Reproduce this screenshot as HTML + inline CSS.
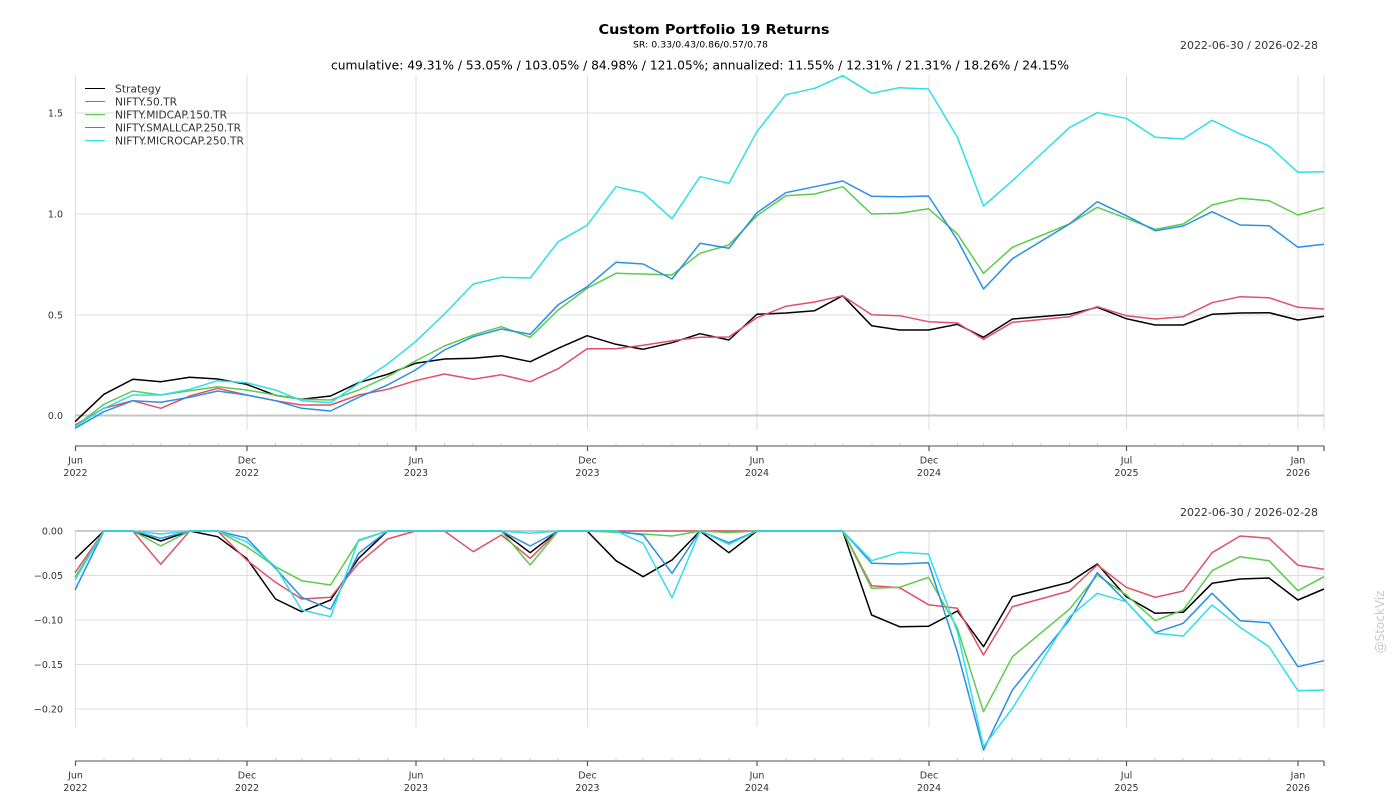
<!DOCTYPE html>
<html>
<head>
<meta charset="utf-8">
<style>
html,body{margin:0;padding:0;background:#fff;}
svg{display:block;}
text{font-family:"DejaVu Sans","Liberation Sans",sans-serif;}
</style>
</head>
<body>
<svg width="1400" height="800" viewBox="0 0 1400 800" xmlns="http://www.w3.org/2000/svg">
<rect x="0" y="0" width="1400" height="800" fill="#fff"/>

<!-- Titles -->
<text x="714" y="34" text-anchor="middle" font-size="13.5" font-weight="bold" fill="#000" textLength="231" lengthAdjust="spacingAndGlyphs">Custom Portfolio 19 Returns</text>
<text x="700.5" y="47.5" text-anchor="middle" font-size="9" fill="#000" textLength="135" lengthAdjust="spacingAndGlyphs">SR: 0.33/0.43/0.86/0.57/0.78</text>
<text x="700" y="69.5" text-anchor="middle" font-size="12" fill="#000" textLength="738" lengthAdjust="spacingAndGlyphs">cumulative: 49.31% / 53.05% / 103.05% / 84.98% / 121.05%; annualized: 11.55% / 12.31% / 21.31% / 18.26% / 24.15%</text>
<text x="1318" y="49" text-anchor="end" font-size="11" fill="#333" textLength="138" lengthAdjust="spacingAndGlyphs">2022-06-30 / 2026-02-28</text>
<text x="1318" y="516" text-anchor="end" font-size="11" fill="#333" textLength="138" lengthAdjust="spacingAndGlyphs">2022-06-30 / 2026-02-28</text>

<!-- Top plot grid -->
<g stroke="#dddddd" stroke-width="1">
  <line x1="75" y1="113" x2="1324" y2="113"/>
  <line x1="75" y1="214" x2="1324" y2="214"/>
  <line x1="75" y1="315" x2="1324" y2="315"/>
  <line x1="75.5" y1="75" x2="75.5" y2="430"/>
  <line x1="247" y1="75" x2="247" y2="430"/>
  <line x1="416" y1="75" x2="416" y2="430"/>
  <line x1="587.5" y1="75" x2="587.5" y2="430"/>
  <line x1="757" y1="75" x2="757" y2="430"/>
  <line x1="929" y1="75" x2="929" y2="430"/>
  <line x1="1126.5" y1="75" x2="1126.5" y2="430"/>
  <line x1="1298" y1="75" x2="1298" y2="430"/>
  <line x1="1324" y1="75" x2="1324" y2="430"/>
</g>
<line x1="75" y1="415.5" x2="1324" y2="415.5" stroke="#c4c4c4" stroke-width="2"/>

<!-- Top y labels -->
<g font-size="9.5" fill="#333" text-anchor="end">
  <text x="63" y="116.5">1.5</text>
  <text x="63" y="217.5">1.0</text>
  <text x="63" y="318.5">0.5</text>
  <text x="63" y="419">0.0</text>
</g>

<!-- Top x axis -->
<g stroke="#cfcfcf" stroke-width="1">
  <line x1="104" y1="443" x2="104" y2="446"/><line x1="133" y1="443" x2="133" y2="446"/><line x1="161" y1="443" x2="161" y2="446"/><line x1="190" y1="443" x2="190" y2="446"/><line x1="218" y1="443" x2="218" y2="446"/>
  <line x1="275.5" y1="443" x2="275.5" y2="446"/><line x1="302" y1="443" x2="302" y2="446"/><line x1="331" y1="443" x2="331" y2="446"/><line x1="359" y1="443" x2="359" y2="446"/><line x1="387.5" y1="443" x2="387.5" y2="446"/>
  <line x1="444.5" y1="443" x2="444.5" y2="446"/><line x1="473" y1="443" x2="473" y2="446"/><line x1="501" y1="443" x2="501" y2="446"/><line x1="530" y1="443" x2="530" y2="446"/><line x1="558" y1="443" x2="558" y2="446"/>
  <line x1="616" y1="443" x2="616" y2="446"/><line x1="643" y1="443" x2="643" y2="446"/><line x1="672" y1="443" x2="672" y2="446"/><line x1="700" y1="443" x2="700" y2="446"/><line x1="729" y1="443" x2="729" y2="446"/>
  <line x1="786" y1="443" x2="786" y2="446"/><line x1="815" y1="443" x2="815" y2="446"/><line x1="843" y1="443" x2="843" y2="446"/><line x1="872" y1="443" x2="872" y2="446"/><line x1="900" y1="443" x2="900" y2="446"/>
  <line x1="957.5" y1="443" x2="957.5" y2="446"/><line x1="983.5" y1="443" x2="983.5" y2="446"/><line x1="1012.5" y1="443" x2="1012.5" y2="446"/><line x1="1041" y1="443" x2="1041" y2="446"/><line x1="1069.5" y1="443" x2="1069.5" y2="446"/><line x1="1097.5" y1="443" x2="1097.5" y2="446"/>
  <line x1="1155" y1="443" x2="1155" y2="446"/><line x1="1183" y1="443" x2="1183" y2="446"/><line x1="1212" y1="443" x2="1212" y2="446"/><line x1="1240" y1="443" x2="1240" y2="446"/><line x1="1269" y1="443" x2="1269" y2="446"/>
</g>
<line x1="75" y1="446" x2="1324" y2="446" stroke="#8a8a8a" stroke-width="1.6"/>
<g stroke="#555" stroke-width="1.2">
  <line x1="75.5" y1="446" x2="75.5" y2="451"/>
  <line x1="247" y1="446" x2="247" y2="451"/>
  <line x1="416" y1="446" x2="416" y2="451"/>
  <line x1="587.5" y1="446" x2="587.5" y2="451"/>
  <line x1="757" y1="446" x2="757" y2="451"/>
  <line x1="929" y1="446" x2="929" y2="451"/>
  <line x1="1126.5" y1="446" x2="1126.5" y2="451"/>
  <line x1="1298" y1="446" x2="1298" y2="451"/>
  <line x1="1324" y1="446" x2="1324" y2="451"/>
</g>
<g font-size="9.5" fill="#333" text-anchor="middle">
  <text x="75.5" y="463.5">Jun</text><text x="75.5" y="476">2022</text>
  <text x="247" y="463.5">Dec</text><text x="247" y="476">2022</text>
  <text x="416" y="463.5">Jun</text><text x="416" y="476">2023</text>
  <text x="587.5" y="463.5">Dec</text><text x="587.5" y="476">2023</text>
  <text x="757" y="463.5">Jun</text><text x="757" y="476">2024</text>
  <text x="929" y="463.5">Dec</text><text x="929" y="476">2024</text>
  <text x="1126.5" y="463.5">Jul</text><text x="1126.5" y="476">2025</text>
  <text x="1298" y="463.5">Jan</text><text x="1298" y="476">2026</text>
</g>

<!-- Top series -->
<g fill="none" stroke-width="1.5" stroke-linejoin="round">
<polyline stroke="#000000" points="75,421.7 103.9,394.3 132.8,379.3 160.8,381.7 189.7,377.3 217.7,379 246.6,384.3 275.5,395.3 301.7,399.3 330.6,396 358.6,382.7 387.5,374.3 415.5,363.3 444.4,359 473.3,358.3 501.3,355.7 530.2,361.7 558.2,348.3 587.1,335.7 616,344.3 643.1,349.3 672,342.7 700,333.7 728.9,340 756.9,314.3 785.8,313 814.7,310.7 842.7,295.7 871.6,325.7 899.6,330 928.5,330 957.4,324.3 983.5,337.3 1012.4,319 1069.4,314.3 1097.3,307.3 1126.3,318.7 1155.2,325 1183.2,325 1212.1,314.3 1240.1,313 1269,312.7 1297.9,320 1324,316.3"/>
<polyline stroke="#e0506a" points="75,425 103.9,408.3 132.8,400.7 160.8,408.3 189.7,396 217.7,388.3 246.6,395 275.5,400.7 301.7,405 330.6,405 358.6,395 387.5,389.3 415.5,380.7 444.4,374 473.3,379.3 501.3,374.7 530.2,381.7 558.2,368.7 587.1,348.7 616,348.7 643.1,345.3 672,340.7 700,337.3 728.9,337 756.9,317.7 785.8,306.3 814.7,302 842.7,295.7 871.6,314.7 899.6,315.7 928.5,321.7 957.4,323 983.5,339.3 1012.4,322.3 1069.4,316.7 1097.3,306.7 1126.3,315.7 1155.2,319 1183.2,316.7 1212.1,302.7 1240.1,296.7 1269,297.7 1297.9,307.3 1324,309"/>
<polyline stroke="#5ccb4c" points="75,426.7 103.9,404.3 132.8,391 160.8,395 189.7,390.7 217.7,386.7 246.6,390 275.5,395 301.7,399.3 330.6,400 358.6,390 387.5,376.7 415.5,361 444.4,346 473.3,335 501.3,326.7 530.2,337.3 558.2,310 587.1,288.3 616,273.3 643.1,274 672,275 700,253.3 728.9,245 756.9,215.7 785.8,195.7 814.7,194 842.7,186.7 871.6,214 899.6,213.3 928.5,208.7 957.4,234 983.5,273.3 1012.4,247.3 1069.4,224 1097.3,207.3 1126.3,218.3 1155.2,229.3 1183.2,224 1212.1,205 1240.1,198.3 1269,200.7 1297.9,215 1324,207.7"/>
<polyline stroke="#2b8fe6" points="75,428.3 103.9,411.7 132.8,400.7 160.8,402.3 189.7,397.3 217.7,391 246.6,395 275.5,400.7 301.7,408.3 330.6,411 358.6,397.3 387.5,385 415.5,370 444.4,350 473.3,336.7 501.3,329 530.2,334.3 558.2,304.7 587.1,286.7 616,262.3 643.1,264 672,279 700,243.3 728.9,248.3 756.9,212.7 785.8,192.7 814.7,186.7 842.7,181 871.6,196.3 899.6,196.7 928.5,196 957.4,240 983.5,289 1012.4,258.7 1069.4,224 1097.3,201.7 1126.3,215.7 1155.2,230.7 1183.2,226 1212.1,211.7 1240.1,225 1269,225.7 1297.9,247.3 1324,244.3"/>
<polyline stroke="#2fdfe8" points="75,426.7 103.9,408.3 132.8,395 160.8,395 189.7,389.3 217.7,380.7 246.6,382.7 275.5,390 301.7,400.7 330.6,402.7 358.6,383.3 387.5,364 415.5,341.7 444.4,314 473.3,284 501.3,277.3 530.2,278 558.2,241.7 587.1,225.3 616,186.7 643.1,192.7 672,218.7 700,176.7 728.9,183.3 756.9,131.7 785.8,94.7 814.7,88.3 842.7,75.7 871.6,93.3 899.6,87.7 928.5,89 957.4,137.3 983.5,206 1012.4,180.7 1069.4,127.7 1097.3,112.7 1126.3,118.3 1155.2,137.3 1183.2,139 1212.1,120.3 1240.1,134 1269,146 1297.9,172.3 1324,171.7"/>
</g>

<!-- Legend -->
<g stroke-width="1">
  <line x1="85" y1="88.5" x2="105" y2="88.5" stroke="#000"/>
  <line x1="85" y1="101.5" x2="105" y2="101.5" stroke="#e0506a"/>
  <line x1="85" y1="114.5" x2="105" y2="114.5" stroke="#5ccb4c"/>
  <line x1="85" y1="127.5" x2="105" y2="127.5" stroke="#2b8fe6"/>
  <line x1="85" y1="140.5" x2="105" y2="140.5" stroke="#2fdfe8"/>
</g>
<g font-size="10.7" fill="#333">
  <text x="115" y="92.5" textLength="46" lengthAdjust="spacingAndGlyphs">Strategy</text>
  <text x="115" y="105.5" textLength="62" lengthAdjust="spacingAndGlyphs">NIFTY.50.TR</text>
  <text x="115" y="118.5" textLength="112" lengthAdjust="spacingAndGlyphs">NIFTY.MIDCAP.150.TR</text>
  <text x="115" y="131.5" textLength="126" lengthAdjust="spacingAndGlyphs">NIFTY.SMALLCAP.250.TR</text>
  <text x="115" y="144.5" textLength="129" lengthAdjust="spacingAndGlyphs">NIFTY.MICROCAP.250.TR</text>
</g>

<!-- Bottom plot grid -->
<g stroke="#dddddd" stroke-width="1">
  <line x1="75" y1="575.5" x2="1324" y2="575.5"/>
  <line x1="75" y1="620" x2="1324" y2="620"/>
  <line x1="75" y1="664.5" x2="1324" y2="664.5"/>
  <line x1="75" y1="709" x2="1324" y2="709"/>
  <line x1="75.5" y1="531" x2="75.5" y2="727"/>
  <line x1="247" y1="531" x2="247" y2="727"/>
  <line x1="416" y1="531" x2="416" y2="727"/>
  <line x1="587.5" y1="531" x2="587.5" y2="727"/>
  <line x1="757" y1="531" x2="757" y2="727"/>
  <line x1="929" y1="531" x2="929" y2="727"/>
  <line x1="1126.5" y1="531" x2="1126.5" y2="727"/>
  <line x1="1298" y1="531" x2="1298" y2="727"/>
  <line x1="1324" y1="531" x2="1324" y2="727"/>
</g>
<line x1="75" y1="531" x2="1324" y2="531" stroke="#b8b8b8" stroke-width="1.5"/>

<g font-size="9.5" fill="#333" text-anchor="end">
  <text x="63" y="534.5">0.00</text>
  <text x="63" y="579">−0.05</text>
  <text x="63" y="623.5">−0.10</text>
  <text x="63" y="668">−0.15</text>
  <text x="63" y="712.5">−0.20</text>
</g>

<!-- Bottom x axis -->
<g stroke="#cfcfcf" stroke-width="1">
  <line x1="104" y1="758" x2="104" y2="761"/><line x1="133" y1="758" x2="133" y2="761"/><line x1="161" y1="758" x2="161" y2="761"/><line x1="190" y1="758" x2="190" y2="761"/><line x1="218" y1="758" x2="218" y2="761"/>
  <line x1="275.5" y1="758" x2="275.5" y2="761"/><line x1="302" y1="758" x2="302" y2="761"/><line x1="331" y1="758" x2="331" y2="761"/><line x1="359" y1="758" x2="359" y2="761"/><line x1="387.5" y1="758" x2="387.5" y2="761"/>
  <line x1="444.5" y1="758" x2="444.5" y2="761"/><line x1="473" y1="758" x2="473" y2="761"/><line x1="501" y1="758" x2="501" y2="761"/><line x1="530" y1="758" x2="530" y2="761"/><line x1="558" y1="758" x2="558" y2="761"/>
  <line x1="616" y1="758" x2="616" y2="761"/><line x1="643" y1="758" x2="643" y2="761"/><line x1="672" y1="758" x2="672" y2="761"/><line x1="700" y1="758" x2="700" y2="761"/><line x1="729" y1="758" x2="729" y2="761"/>
  <line x1="786" y1="758" x2="786" y2="761"/><line x1="815" y1="758" x2="815" y2="761"/><line x1="843" y1="758" x2="843" y2="761"/><line x1="872" y1="758" x2="872" y2="761"/><line x1="900" y1="758" x2="900" y2="761"/>
  <line x1="957.5" y1="758" x2="957.5" y2="761"/><line x1="983.5" y1="758" x2="983.5" y2="761"/><line x1="1012.5" y1="758" x2="1012.5" y2="761"/><line x1="1041" y1="758" x2="1041" y2="761"/><line x1="1069.5" y1="758" x2="1069.5" y2="761"/><line x1="1097.5" y1="758" x2="1097.5" y2="761"/>
  <line x1="1155" y1="758" x2="1155" y2="761"/><line x1="1183" y1="758" x2="1183" y2="761"/><line x1="1212" y1="758" x2="1212" y2="761"/><line x1="1240" y1="758" x2="1240" y2="761"/><line x1="1269" y1="758" x2="1269" y2="761"/>
</g>
<line x1="75" y1="761" x2="1324" y2="761" stroke="#8a8a8a" stroke-width="1.6"/>
<g stroke="#555" stroke-width="1.2">
  <line x1="75.5" y1="761" x2="75.5" y2="766"/>
  <line x1="247" y1="761" x2="247" y2="766"/>
  <line x1="416" y1="761" x2="416" y2="766"/>
  <line x1="587.5" y1="761" x2="587.5" y2="766"/>
  <line x1="757" y1="761" x2="757" y2="766"/>
  <line x1="929" y1="761" x2="929" y2="766"/>
  <line x1="1126.5" y1="761" x2="1126.5" y2="766"/>
  <line x1="1298" y1="761" x2="1298" y2="766"/>
  <line x1="1324" y1="761" x2="1324" y2="766"/>
</g>
<g font-size="9.5" fill="#333" text-anchor="middle">
  <text x="75.5" y="778.5">Jun</text><text x="75.5" y="791">2022</text>
  <text x="247" y="778.5">Dec</text><text x="247" y="791">2022</text>
  <text x="416" y="778.5">Jun</text><text x="416" y="791">2023</text>
  <text x="587.5" y="778.5">Dec</text><text x="587.5" y="791">2023</text>
  <text x="757" y="778.5">Jun</text><text x="757" y="791">2024</text>
  <text x="929" y="778.5">Dec</text><text x="929" y="791">2024</text>
  <text x="1126.5" y="778.5">Jul</text><text x="1126.5" y="791">2025</text>
  <text x="1298" y="778.5">Jan</text><text x="1298" y="791">2026</text>
</g>

<!-- Bottom series -->
<g fill="none" stroke-width="1.5" stroke-linejoin="round">
<polyline stroke="#000000" points="75,559 103.9,531 132.8,531 160.8,541 189.7,531 217.7,536.7 246.6,558.3 275.5,599 301.7,611.7 330.6,600 358.6,558.3 387.5,531 415.5,531 444.4,531 473.3,531 501.3,531 530.2,552.7 558.2,531 587.1,531 616,560.7 643.1,576.7 672,560 700,531 728.9,552.7 756.9,531 785.8,531 814.7,531 842.7,531 871.6,615 899.6,626.7 928.5,626.3 957.4,611 983.5,646.7 1012.4,596.7 1069.4,582.3 1097.3,564 1126.3,596.7 1155.2,613.3 1183.2,612.3 1212.1,583.3 1240.1,579 1269,578 1297.9,600 1324,589"/>
<polyline stroke="#e0506a" points="75,572.7 103.9,531 132.8,531 160.8,564.3 189.7,531 217.7,531 246.6,560 275.5,582.3 301.7,599 330.6,597.3 358.6,563.3 387.5,539 415.5,531 444.4,531 473.3,551.7 501.3,535 530.2,558.3 558.2,531 587.1,531 616,531 643.1,531 672,531 700,531 728.9,531 756.9,531 785.8,531 814.7,531 842.7,531 871.6,585.7 899.6,587.7 928.5,604.7 957.4,608.3 983.5,655 1012.4,606.7 1069.4,591 1097.3,565 1126.3,587.3 1155.2,597.3 1183.2,591 1212.1,552.7 1240.1,536 1269,538.3 1297.9,565.3 1324,569.3"/>
<polyline stroke="#5ccb4c" points="75,577.3 103.9,531 132.8,531 160.8,546 189.7,531 217.7,531 246.6,546.7 275.5,566.7 301.7,580.7 330.6,585 358.6,540.7 387.5,531 415.5,531 444.4,531 473.3,531 501.3,531 530.2,565 558.2,531 587.1,531 616,532.3 643.1,534 672,536 700,531 728.9,532.5 756.9,531 785.8,531 814.7,531 842.7,531 871.6,588.3 899.6,587.3 928.5,577.3 957.4,628.3 983.5,711.7 1012.4,656.7 1069.4,609.3 1097.3,575 1126.3,595 1155.2,620.7 1183.2,610 1212.1,570.7 1240.1,556.7 1269,560.7 1297.9,590.7 1324,576.7"/>
<polyline stroke="#2b8fe6" points="75,590 103.9,531 132.8,531 160.8,538.3 189.7,531 217.7,531 246.6,538 275.5,568.3 301.7,597.3 330.6,609.3 358.6,553.3 387.5,531 415.5,531 444.4,531 473.3,531 501.3,531 530.2,546 558.2,531 587.1,531 616,531 643.1,535 672,573.3 700,531 728.9,542.7 756.9,531 785.8,531 814.7,531 842.7,531 871.6,563.3 899.6,564 928.5,562.7 957.4,652 983.5,750 1012.4,690 1069.4,620 1097.3,572.7 1126.3,601.7 1155.2,632.7 1183.2,623.3 1212.1,593.3 1240.1,620.7 1269,622.7 1297.9,666.7 1324,660.7"/>
<polyline stroke="#2fdfe8" points="75,580 103.9,531 132.8,531 160.8,534 189.7,531 217.7,531 246.6,541.7 275.5,566.7 301.7,610 330.6,616.7 358.6,540 387.5,531 415.5,531 444.4,531 473.3,531 501.3,531 530.2,533.3 558.2,531 587.1,531 616,531 643.1,543.3 672,597.7 700,531 728.9,544.3 756.9,531 785.8,531 814.7,531 842.7,531 871.6,560.7 899.6,552.3 928.5,554 957.4,632 983.5,746.7 1012.4,708.3 1069.4,616.7 1097.3,593.3 1126.3,601.7 1155.2,633.3 1183.2,636 1212.1,605 1240.1,627.3 1269,646.7 1297.9,690.7 1324,690"/>
</g>

<!-- Watermark -->
<text x="0" y="0" transform="translate(1384,622) rotate(-90)" text-anchor="middle" font-size="12" fill="#c8c8c8">@StockViz</text>
</svg>
</body>
</html>
